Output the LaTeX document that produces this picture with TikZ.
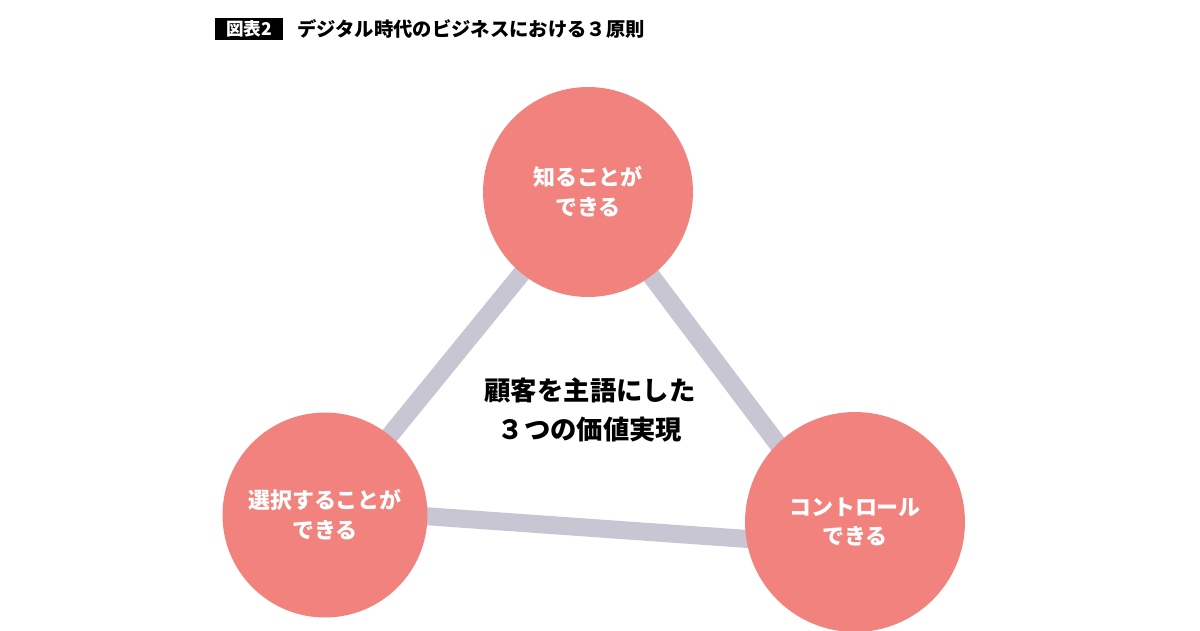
\documentclass[tikz,border=0pt]{standalone}
\usepackage{fontspec}
\setmainfont{Noto Sans CJK JP}
\definecolor{salmon}{RGB}{241,130,125}
\definecolor{linkgray}{RGB}{200,198,210}
\tikzset{
  principle/.style={circle, fill=salmon, text=white, font=\fontsize{12.5}{17}\selectfont\bfseries, align=center},
  link/.style={draw=linkgray, line width=0.36cm},
}
\begin{document}
\begin{tikzpicture}[x=0.02cm, y=-0.02cm]
\useasboundingbox (0,0) rectangle (1200,630);
%%%%%%%%%%%%%%%%%%%%%%%%%%%%%%% title
\node[fill=black, text=white, font=\fontsize{10}{12}\selectfont\bfseries, minimum width=1.36cm, minimum height=0.44cm, inner sep=0pt](figNo) at (249,29){図表2};
\node[anchor=west, font=\fontsize{11}{13}\selectfont\bfseries, inner sep=0pt](title) at (297,29){デジタル時代のビジネスにおける３原則};
%%%%%%%%%%%%%%%%%%%%%%%%%%%%%%% triangle of principles
\coordinate (cKnow) at (588,192);
\coordinate (cChoose) at (325,515);
\coordinate (cControl) at (855,522);
\draw[link] (cKnow) -- (cChoose) -- ++(0,-6) -- ([yshift=-14]cControl) -- cycle;
\node[principle, minimum size=4.2cm](know) at (cKnow){知ることが\\できる};
\node[principle, minimum size=4.1cm](choose) at (cChoose){選択することが\\できる};
\node[principle, minimum size=4.4cm](control) at (cControl){コントロール\\できる};
\node[font=\fontsize{15}{22}\selectfont\bfseries, align=center](value) at (590,410){顧客を主語にした\\３つの価値実現};
\end{tikzpicture}
\end{document}
